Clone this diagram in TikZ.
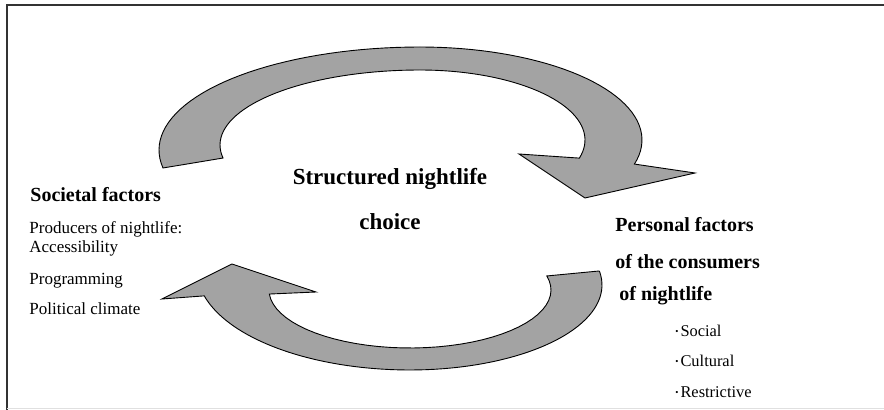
\documentclass[tikz,border=0pt]{standalone}
\usepackage{fontspec}
\setmainfont{Liberation Serif}

\begin{document}
\begin{tikzpicture}[x=0.5pt,y=-0.5pt]
\useasboundingbox (0,0) rectangle (884,410);

% Frame round the figure
\draw[line width=0.8pt,black!80] (7,410) -- (7,5) -- (884,5);
\draw[black!12] (7,408) -- (884,408);

% The two curved arrows of the cycle
\tikzstyle{band}=[fill=black!36,draw=black,line width=0.45pt,line join=miter];
\tikzstyle{arc}=[samples=40,variable=\t];

% upper arrow: left to right, head pointing down
\filldraw[band] (163,168)
  -- plot[arc,domain=190:90] ({420+261*cos(\t)},{150-103*sin(\t)})
  -- plot[arc,domain=90:-15] ({420+222*cos(\t)},{140-93*sin(\t)})
  -- (695,173) -- (585,198) -- (519,154)
  -- plot[arc,domain=-15:90] ({420+165*cos(\t)},{140-70*sin(\t)})
  -- plot[arc,domain=90:190] ({420+200*cos(\t)},{145-75*sin(\t)})
  -- cycle;

% lower arrow: right to left, head pointing up
\filldraw[band] (232,264) -- (316,292)
  -- plot[arc,domain=184:374] ({410+141*cos(\t)},{290-58*sin(\t)})
  -- (599,271)
  -- plot[arc,domain=9:-90] ({410+192*cos(\t)},{285-85*sin(\t)})
  -- plot[arc,domain=270:195] ({410+213*cos(\t)},{270-100*sin(\t)})
  -- (162,299) -- cycle;

% Centre text
\tikzstyle{every node}=[anchor=base,inner sep=0pt,font=\bfseries\fontsize{11.5}{13}\selectfont];
\node (choice1) at (390,185) {Structured nightlife};
\node (choice2) at (390,230) {choice};

% Societal factors on the left
\tikzstyle{every node}=[anchor=base west,inner sep=0pt,font=\bfseries\fontsize{10}{12}\selectfont];
\node (soc) at (30,202) {Societal factors};

\tikzstyle{every node}=[anchor=base west,inner sep=0pt,font=\fontsize{8.5}{10}\selectfont];
\foreach \y/\t [count=\idx] in {234/Producers of nightlife:,253/Accessibility,285/Programming,315/Political climate}
  \node (s\idx) at (29,\y) {\t};

% Personal factors on the right
\tikzstyle{every node}=[anchor=base west,inner sep=0pt,font=\bfseries\fontsize{10}{12}\selectfont];
\node (pers1) at (615,232) {Personal factors};
\node (pers2) at (615,269) {of the consumers};
\node (pers3) at (619,301) {of nightlife};

\tikzstyle{every node}=[anchor=base west,inner sep=0pt,font=\fontsize{8.2}{10}\selectfont];
\foreach \y/\t [count=\idx] in {337/Social,367/Cultural,398/Restrictive}
  \node (p\idx) at (675,\y) {{\fontsize{4.5}{5}\selectfont\raisebox{0.5ex}{•}}\hspace{1pt}\t};

\end{tikzpicture}
\end{document}
